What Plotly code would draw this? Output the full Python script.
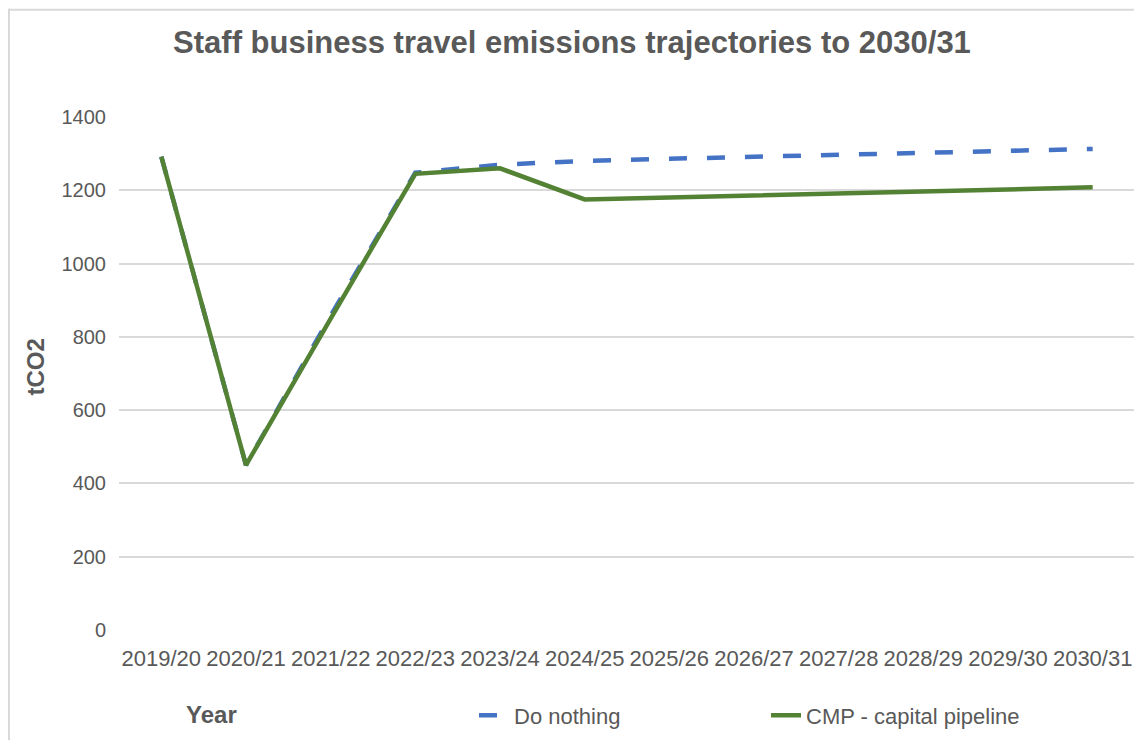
import plotly.graph_objects as go

years = ["2019/20", "2020/21", "2021/22", "2022/23", "2023/24", "2024/25",
         "2025/26", "2026/27", "2027/28", "2028/29", "2029/30", "2030/31"]
do_nothing = [1292, 450, 858, 1248, 1270, 1280, 1286, 1291, 1296, 1302, 1307, 1313]
cmp_pipeline = [1292, 450, 850, 1245, 1260, 1175, 1180, 1186, 1191, 1197, 1203, 1208]
y_ticks = [0, 200, 400, 600, 800, 1000, 1200, 1400]

# page is rendered with an 8px body margin -> figure coords = page coords - 8
W, H = 1134, 736
L, R, T, B = 111, 7, 109, 111
pw, ph = W - L - R, H - T - B


def px(xf):
    return (xf - L) / pw


def py(yf):
    return (H - B - yf) / ph


fig = go.Figure()
fig.add_trace(go.Scatter(x=years, y=do_nothing, mode="lines", name="Do nothing",
                         line=dict(color="#4472C4", width=4.5, dash="18px,20px"),
                         legend="legend"))
fig.add_trace(go.Scatter(x=years, y=cmp_pipeline, mode="lines", name="CMP - capital pipeline",
                         line=dict(color="#548235", width=4.5), legend="legend2"))

font_family = "Liberation Sans, Arial, sans-serif"
txt = "#595959"
fig.update_layout(
    width=W, height=H,
    margin=dict(l=L, r=R, t=T, b=B),
    paper_bgcolor="white", plot_bgcolor="white",
    font=dict(family=font_family, color=txt, size=20),
    title=dict(text="<b>Staff business travel emissions trajectories to 2030/31</b>",
               xref="container", yref="container",
               x=564 / W, xanchor="center", y=1 - 34 / H, yanchor="middle",
               font=dict(size=31, color=txt, family=font_family)),
    xaxis=dict(type="category", showgrid=False, zeroline=False, showline=False,
               ticks="", tickangle=0, tickfont=dict(size=22, color=txt),
               ticklabelstandoff=13, range=[-0.5, len(years) - 0.5]),
    yaxis=dict(range=[0, 1400], tickvals=y_ticks, showgrid=True, gridcolor="#D9D9D9",
               gridwidth=1.5, zeroline=False, showline=False, ticks="",
               tickfont=dict(size=20, color=txt), ticklabelstandoff=12),
    legend=dict(orientation="h", x=px(466), y=py(711), xanchor="left", yanchor="middle",
                font=dict(size=22, color=txt), bgcolor="rgba(0,0,0,0)"),
    legend2=dict(orientation="h", x=px(758), y=py(711), xanchor="left", yanchor="middle",
                 font=dict(size=22, color=txt), bgcolor="rgba(0,0,0,0)"),
    showlegend=True,
)
fig.add_annotation(text="<b>Year</b>", xref="paper", yref="paper",
                   x=px(203), y=py(710), showarrow=False,
                   xanchor="center", yanchor="middle",
                   font=dict(size=24, color=txt, family=font_family))
fig.add_annotation(text="<b>tCO2</b>", xref="paper", yref="paper",
                   x=px(28), y=py(361), showarrow=False, textangle=-90,
                   xanchor="center", yanchor="middle",
                   font=dict(size=24, color=txt, family=font_family))
# chart-area border (left and top edges)
fig.add_shape(type="line", xref="paper", yref="paper",
              x0=px(1), x1=px(1), y0=py(H), y1=py(0),
              line=dict(color="#D9D9D9", width=2), layer="below")
fig.add_shape(type="line", xref="paper", yref="paper",
              x0=px(0), x1=px(W), y0=py(1), y1=py(1),
              line=dict(color="#D9D9D9", width=2), layer="below")
fig.write_html("out.html")
